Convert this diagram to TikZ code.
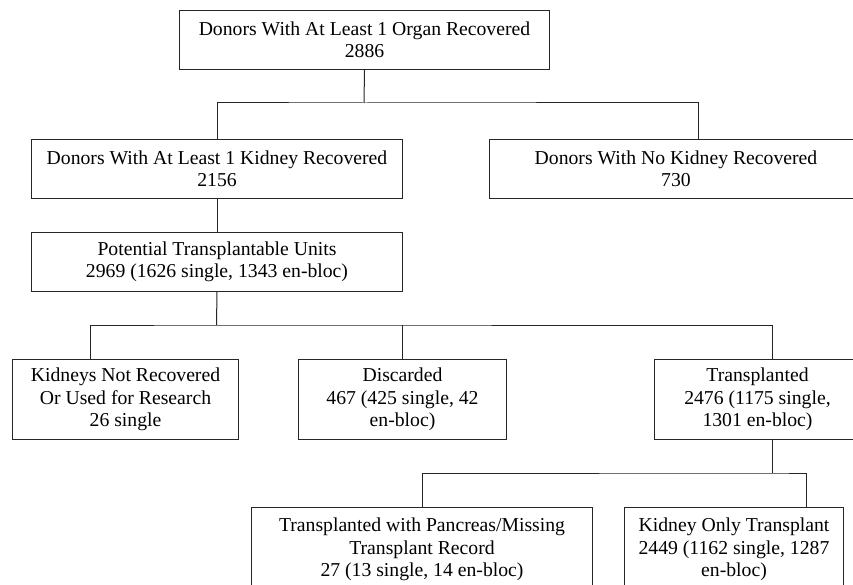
\documentclass[tikz,border=0pt]{standalone}
\usepackage{fontspec}
\setmainfont{Liberation Serif}
\definecolor{linegray}{gray}{0.15}
\begin{document}
\begin{tikzpicture}[x=1pt,y=-1pt,
  box/.style={draw=linegray, line width=1pt, inner sep=0pt, align=center,
    font=\fontsize{19.7}{22.5}\selectfont, anchor=north west},
  conn/.style={draw=linegray, line width=1pt}]
\useasboundingbox (0,0) rectangle (853,585);
\clip (0,0) rectangle (853,585);
\fill[white] (0,0) rectangle (853,585);

% level 1
\node[box, minimum width=370pt, minimum height=59pt] (T) at (179,10)
  {Donors With At Least 1 Organ Recovered\\2886};
% level 2
\node[box, minimum width=371pt, minimum height=59pt] (L) at (31,139)
  {Donors With At Least 1 Kidney Recovered\\2156};
\node[box, minimum width=373pt, minimum height=59pt] (R) at (489,139)
  {Donors With No Kidney Recovered\\730};
% level 3
\node[box, minimum width=371pt, minimum height=59pt] (P) at (31,232)
  {Potential Transplantable Units\\2969 (1626 single, 1343 en-bloc)};
% level 4
\node[box, minimum width=226pt, minimum height=80pt] (K) at (12,359)
  {Kidneys Not Recovered\\Or Used for Research\\26 single};
\node[box, minimum width=208pt, minimum height=80pt] (D) at (298,359)
  {Discarded\\467 (425 single, 42\\en-bloc)};
\node[box, minimum width=206pt, minimum height=80pt] (Tr) at (654,359)
  {Transplanted\\2476 (1175 single,\\1301 en-bloc)};
% level 5
\node[box, minimum width=341pt, minimum height=84pt] (PA) at (251,507)
  {Transplanted with Pancreas/Missing\\Transplant Record\\27 (13 single, 14 en-bloc)};
\node[box, minimum width=219pt, minimum height=84pt] (KO) at (624,507)
  {Kidney Only Transplant\\2449 (1162 single, 1287\\en-bloc)};

% connector points
\coordinate (b1) at (364,103);
\coordinate (rT) at (698,139);
\coordinate (b2) at (216.5,325);
\coordinate (kT) at (90,359);
\coordinate (tT) at (772,359);
\coordinate (tB) at (772,439);
\coordinate (b3) at (772,473);
\coordinate (koT) at (806,507);

% connectors
\draw[conn] (T.south) -- (b1);
\draw[conn] (L.north) |- (b1) -| (rT);
\draw[conn] (L.south) -- (P.north);
\draw[conn] (P.south) -- (b2);
\draw[conn] (kT) |- (b2) -| (tT);
\draw[conn] (D.north) -- (D.north |- b2);
\draw[conn] (tB) -- (b3);
\draw[conn] (PA.north) |- (b3) -| (koT);
\end{tikzpicture}
\end{document}
